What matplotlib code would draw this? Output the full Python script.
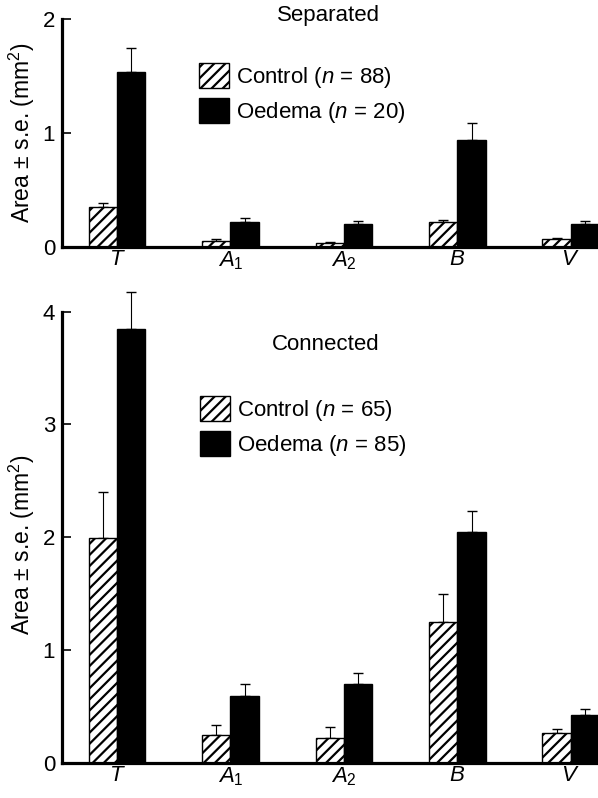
import numpy as np
import matplotlib
matplotlib.use("Agg")
import matplotlib.pyplot as plt

plt.rcParams['font.family'] = ['Liberation Sans', 'DejaVu Sans']
plt.rcParams['mathtext.fontset'] = 'custom'
plt.rcParams['mathtext.it'] = 'Liberation Sans:italic'
plt.rcParams['mathtext.rm'] = 'Liberation Sans'
plt.rcParams['hatch.linewidth'] = 1.6

# categorias e valores
categorias = ['$T$', '$A_\\mathrm{1}$', '$A_\\mathrm{2}$', '$B$', '$V$']

sep_controle = [0.352, 0.053, 0.035, 0.215, 0.065]
sep_controle_ep = [0.030, 0.015, 0.005, 0.022, 0.014]
sep_edema = [1.54, 0.22, 0.197, 0.94, 0.20]
sep_edema_ep = [0.205, 0.03, 0.032, 0.15, 0.028]

con_controle = [1.99, 0.25, 0.22, 1.25, 0.26]
con_controle_ep = [0.41, 0.08, 0.10, 0.25, 0.04]
con_edema = [3.85, 0.59, 0.70, 2.045, 0.425]
con_edema_ep = [0.32, 0.11, 0.095, 0.19, 0.055]

rotulos_sep = ['Control ($n$ = 88)', 'Oedema ($n$ = 20)']
rotulos_con = ['Control ($n$ = 65)', 'Oedema ($n$ = 85)']

W, H = 598, 798
fig = plt.figure(figsize=(W / 100, H / 100), dpi=100)

ax1 = fig.add_axes([62 / W, 1 - 246.7 / H, 1 - 62 / W, (246.7 - 19.3) / H])
ax2 = fig.add_axes([62 / W, 1 - 762.7 / H, 1 - 62 / W, (762.7 - 289.1) / H])

x = np.arange(len(categorias))
larg = 0.25


def painel(ax, ctrl, ctrl_ep, ed, ed_ep, rotulos, ymax, yticks, leg_xy, titulo, tit_xy):
    b1 = ax.bar(x - larg / 2, ctrl, larg, color='white', edgecolor='black',
                hatch='///', linewidth=1.0, label=rotulos[0], zorder=2)
    b2 = ax.bar(x + larg / 2, ed, larg, color='black', edgecolor='black',
                linewidth=1.0, label=rotulos[1], zorder=2)
    ax.errorbar(x - larg / 2, ctrl, yerr=[np.zeros(len(ctrl)), ctrl_ep], fmt='none',
                ecolor='black', elinewidth=0.8, capsize=3.5, capthick=1.0,
                zorder=1, clip_on=False)
    ax.errorbar(x + larg / 2, ed, yerr=[np.zeros(len(ed)), ed_ep], fmt='none',
                ecolor='black', elinewidth=0.8, capsize=3.5, capthick=1.0,
                zorder=1, clip_on=False)
    ax.set_xlim(-0.485, 4.24)
    ax.set_ylim(0, ymax)
    ax.set_yticks(yticks)
    ax.set_yticklabels([str(t) for t in yticks])
    ax.set_xticks(x)
    ax.set_xticklabels(categorias)
    for s in ['top', 'right']:
        ax.spines[s].set_visible(False)
    ax.spines['left'].set_linewidth(2.3)
    ax.spines['bottom'].set_linewidth(2.3)
    ax.spines['left'].set_bounds(0, yticks[-1])
    ax.tick_params(axis='y', direction='in', length=6.5, width=1.2, pad=5, labelsize=16)
    ax.tick_params(axis='x', length=0, pad=2, labelsize=16)
    ax.set_ylabel('Area ± s.e. (mm$^\\mathrm{2}$)', fontsize=16.5)
    ax.legend(handles=[b1, b2], loc='upper left',
              bbox_to_anchor=(leg_xy[0] / W, 1 - leg_xy[1] / H),
              bbox_transform=fig.transFigure, frameon=False, fontsize=16,
              borderpad=0, borderaxespad=0, handlelength=1.35, handleheight=1.35,
              handletextpad=0.3, labelspacing=0.35)
    fig.text(tit_xy[0] / W, 1 - tit_xy[1] / H, titulo, ha='center', va='center', fontsize=16)


painel(ax1, sep_controle, sep_controle_ep, sep_edema, sep_edema_ep, rotulos_sep,
       2, [0, 1, 2], (199, 63), 'Separated', (328, 15))
painel(ax2, con_controle, con_controle_ep, con_edema, con_edema_ep, rotulos_con,
       4.2, [0, 1, 2, 3, 4], (200, 396), 'Connected', (326, 345))

ax1.yaxis.set_label_coords(-0.047, 0.5)
ax2.yaxis.set_label_coords(-0.047, 0.46)

plt.savefig('out.png', dpi=100)
